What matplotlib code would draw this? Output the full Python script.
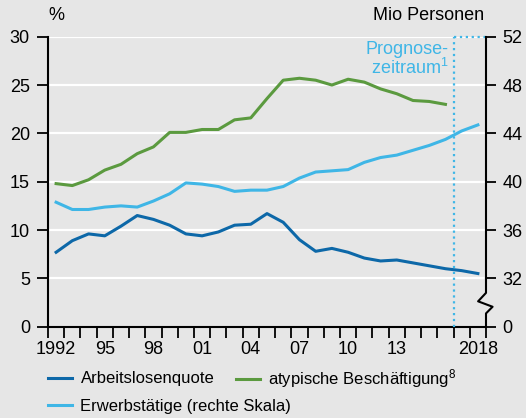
import matplotlib
matplotlib.use("Agg")
import matplotlib.pyplot as plt
import matplotlib.transforms as mtransforms
from matplotlib.lines import Line2D

plt.rcParams['font.family'] = ['Liberation Sans', 'DejaVu Sans']
plt.rcParams['mathtext.default'] = 'regular'

# Daten
years = list(range(1992, 2019))
arbeitslosenquote = [7.7, 8.9, 9.6, 9.4, 10.4, 11.5, 11.1, 10.5, 9.6, 9.4,
                     9.8, 10.5, 10.6, 11.7, 10.8, 9.0, 7.8, 8.1, 7.7, 7.1,
                     6.8, 6.9, 6.6, 6.3, 6.0, 5.8, 5.5]
atyp_years = list(range(1992, 2017))
atypische = [14.8, 14.6, 15.2, 16.2, 16.8, 17.9, 18.6, 20.1, 20.1, 20.4,
             20.4, 21.4, 21.6, 23.6, 25.5, 25.7, 25.5, 25.0, 25.6, 25.3,
             24.6, 24.1, 23.4, 23.3, 23.0]
erwerbstaetige = [38.3, 37.7, 37.7, 37.9, 38.0, 37.9, 38.4, 39.0, 39.9, 39.8,
                  39.6, 39.2, 39.3, 39.3, 39.6, 40.3, 40.8, 40.9, 41.0, 41.6,
                  42.0, 42.2, 42.6, 43.0, 43.5, 44.2, 44.7]
xtick_years = [1992, 1995, 1998, 2001, 2004, 2007, 2010, 2013, 2018]
xtick_labels = ['1992', '95', '98', '01', '04', '07', '10', '13', '2018']
left_ticks = [0, 5, 10, 15, 20, 25, 30]
right_ticks = [28, 32, 36, 40, 44, 48, 52]
right_labels = ['0', '32', '36', '40', '44', '48', '52']

c_dark = '#0d68a8'
c_green = '#5b9a3f'
c_light = '#3fb6e6'
bg = '#e6e6e6'
fs = 13

fig = plt.figure(figsize=(5.26, 4.18), dpi=100, facecolor=bg)
ax = fig.add_axes([48 / 526, 1 - 326.7 / 418, 438 / 526, 290 / 418])
ax.set_facecolor(bg)
ax.set_xlim(1991.5, 2018.5)
ax.set_ylim(0, 30)

# Gitterlinien
for t in left_ticks[1:]:
    ax.axhline(t, color='white', lw=1.6, zorder=1)

ax.plot(years, arbeitslosenquote, color=c_dark, lw=2.2, zorder=3)
ax.plot(atyp_years, atypische, color=c_green, lw=2.2, zorder=3)

ax2 = ax.twinx()
ax2.set_ylim(28, 52)
ax2.plot(years, erwerbstaetige, color=c_light, lw=2.2, zorder=3)

# Prognosezeitraum
ax.plot([2016.5, 2016.5], [0, 30], color=c_light, ls=':', lw=1.6, zorder=4, clip_on=False)
ax.plot([2016.5, 2018.5], [30, 30], color=c_light, ls=':', lw=1.6, zorder=4, clip_on=False)
ax.text(2016.2, 29.6, 'Prognose-\nzeitraum$^1$', color=c_light, fontsize=fs,
        ha='right', va='top', multialignment='right', linespacing=1.05)

# Achsen
for s in ['top', 'right']:
    ax.spines[s].set_visible(False)
ax.spines['left'].set_linewidth(1.5)
ax.spines['bottom'].set_linewidth(1.5)
ax.set_yticks(left_ticks)
ax.tick_params(axis='y', length=8, width=1.3, pad=5, labelsize=fs)
ax.set_xticks(xtick_years)
ax.set_xticklabels(xtick_labels)
ax.set_xticks([y + 0.5 for y in range(1991, 2019)], minor=True)
ax.tick_params(axis='x', which='major', length=0, pad=10, labelsize=fs)
ax.tick_params(axis='x', which='minor', length=8, width=1.3)

for s in ['top', 'left', 'bottom']:
    ax2.spines[s].set_visible(False)
ax2.spines['right'].set_bounds(32, 52)
ax2.spines['right'].set_linewidth(1.5)
ax2.set_yticks(right_ticks)
ax2.set_yticklabels(right_labels)
ax2.tick_params(axis='y', length=7, width=1.3, pad=5, labelsize=fs)

# Achsenbruch
tr = mtransforms.blended_transform_factory(ax2.transAxes, ax2.transData)
ax2.plot([1, 1, 0.982, 1.015, 1, 1], [32, 30.8, 30.1, 29.65, 29.1, 28],
         color='black', lw=1.5, transform=tr, clip_on=False)

fig.text(48 / 526, 1 - 16 / 418, '%', fontsize=fs, ha='left', va='center')
fig.text(484 / 526, 1 - 16 / 418, 'Mio Personen', fontsize=fs, ha='right', va='center')

# Legende
items = [
    (c_dark, 'Arbeitslosenquote', 48, 379),
    (c_green, 'atypische Beschäftigung$^8$', 236, 379),
    (c_light, 'Erwerbstätige (rechte Skala)', 48, 406),
]
for col, lab, px, py in items:
    h = Line2D([], [], color=col, lw=2.2)
    fig.legend(handles=[h], labels=[lab], loc='center left',
               bbox_to_anchor=(px / 526, 1 - py / 418), frameon=False,
               borderpad=0, borderaxespad=0, handlelength=1.45,
               handletextpad=0.5, fontsize=12)

fig.savefig('out.png', dpi=100, facecolor=bg)
